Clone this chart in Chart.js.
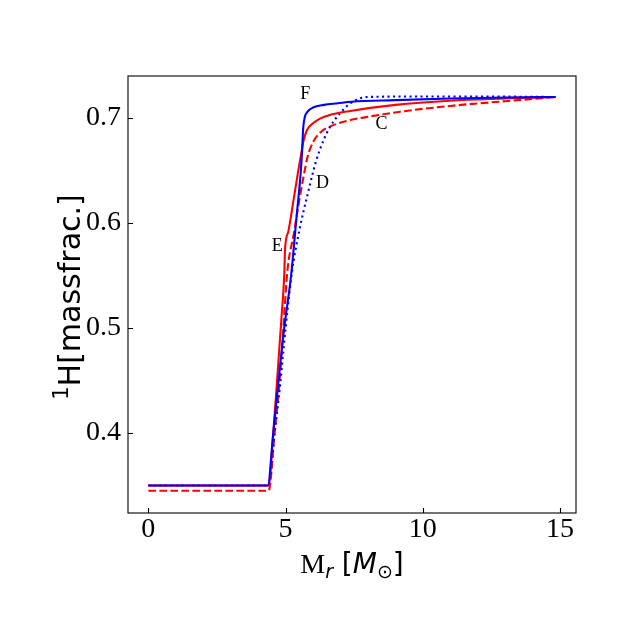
<!DOCTYPE html>
<html>
<head>
<meta charset="utf-8">
<script src="https://cdn.jsdelivr.net/npm/chart.js@4.4.1/dist/chart.umd.min.js"></script>
<style>
  body { margin: 0; background: #fff; }
  #chart { display: block; }
</style>
</head>
<body>
<canvas id="chart" width="640" height="641"></canvas>
<script>
"use strict";

// Profiles: mass coordinate (Msun) vs 1H mass fraction
const fX = [0, 4.35, 4.55, 4.73, 4.95, 5.2, 5.4, 5.55, 5.6, 5.64, 5.7, 5.8, 6.0, 6.4, 6.9, 7.4, 9, 11, 13, 14.84];
const fY = [0.35, 0.35, 0.40, 0.446, 0.50, 0.55, 0.606, 0.648, 0.668, 0.69, 0.701, 0.706, 0.710, 0.7125, 0.714, 0.7155, 0.717, 0.7185, 0.7195, 0.72];

const eX = [0, 4.38, 4.55, 4.68, 4.85, 4.95, 4.98, 5.1, 5.29, 5.45, 5.55, 5.65, 5.78, 6.0, 6.27, 6.7, 7.3, 9, 11, 13, 14.84];
const eY = [0.35, 0.35, 0.40, 0.446, 0.51, 0.55, 0.575, 0.592, 0.622, 0.648, 0.663, 0.678, 0.6886, 0.695, 0.6997, 0.7035, 0.7065, 0.7125, 0.7165, 0.7185, 0.72];

const dX = [0, 4.38, 4.6, 4.8, 5.0, 5.23, 5.5, 5.78, 6.1, 6.4, 6.63, 7.0, 7.36, 7.97, 10, 12, 14.84];
const dY = [0.35, 0.35, 0.40, 0.446, 0.50, 0.553, 0.593, 0.625, 0.658, 0.68, 0.692, 0.705, 0.714, 0.72, 0.7205, 0.7205, 0.72];

const cX = [0, 4.38, 4.6, 4.78, 4.92, 5.06, 5.3, 5.5, 5.66, 5.8, 6.0, 6.3, 6.63, 7.36, 8.2, 9.18, 11, 13, 14.84];
const cY = [0.345, 0.345, 0.40, 0.45, 0.50, 0.553, 0.59, 0.622, 0.645, 0.663, 0.677, 0.687, 0.692, 0.698, 0.702, 0.706, 0.7115, 0.716, 0.72];

// Ticks
const xTicks = [0, 5, 10, 15];
const xTickLabels = ["0", "5", "10", "15"];
const yTicks = [0.4, 0.5, 0.6, 0.7];
const yTickLabels = ["0.4", "0.5", "0.6", "0.7"];

// Curve labels
const noteText = ["F", "C", "D", "E"];
const noteX = [5.72, 8.49, 6.34, 4.70];
const noteY = [0.7229, 0.6943, 0.638, 0.578];

function pts(xs, ys) {
    return xs.map(function (x, i) { return { x: x, y: ys[i] }; });
}

const serif = '"Liberation Serif", "Times New Roman", serif';
const sans = '"DejaVu Sans", sans-serif';

// Frame, inward ticks, axis titles and curve labels
const decorations = {
    id: "decorations",
    afterDraw: function (chart) {
        const ctx = chart.ctx;
        const a = chart.chartArea;
        const xs = chart.scales.x;
        const ys = chart.scales.y;
        ctx.save();

        ctx.strokeStyle = "#000";
        ctx.lineWidth = 1.1;
        ctx.strokeRect(a.left, a.top, a.right - a.left, a.bottom - a.top);

        ctx.beginPath();
        xTicks.forEach(function (v) {
            const px = Math.round(xs.getPixelForValue(v)) + 0.5;
            ctx.moveTo(px, a.bottom);
            ctx.lineTo(px, a.bottom - 5);
        });
        yTicks.forEach(function (v) {
            const py = Math.round(ys.getPixelForValue(v)) + 0.5;
            ctx.moveTo(a.left, py);
            ctx.lineTo(a.left + 5, py);
        });
        ctx.stroke();

        ctx.fillStyle = "#000";
        ctx.textBaseline = "alphabetic";

        // x title: M_r [M_sun]
        const parts = [
            { t: "M", f: "28px " + serif, dy: 0 },
            { t: "r", f: "italic 19px " + sans, dy: 5 },
            { t: " [", f: "28px " + sans, dy: 0 },
            { t: "M", f: "italic 28px " + sans, dy: 0 },
            { t: "\u2299", f: "19px " + sans, dy: 5 },
            { t: "]", f: "28px " + sans, dy: 0 }
        ];
        let total = 0;
        parts.forEach(function (p) { ctx.font = p.f; p.w = ctx.measureText(p.t).width; total += p.w; });
        let cx = (a.left + a.right) / 2 - total / 2;
        parts.forEach(function (p) {
            ctx.font = p.f;
            ctx.textAlign = "left";
            ctx.fillText(p.t, cx, 573 + p.dy);
            cx += p.w;
        });

        // y title: 1H[massfrac.]
        ctx.save();
        ctx.translate(80, 297);
        ctx.rotate(-Math.PI / 2);
        const yparts = [
            { t: "1", f: "21px " + sans, dy: -12 },
            { t: "H[massfrac.]", f: "30px " + sans, dy: 0 }
        ];
        let ytotal = 0;
        yparts.forEach(function (p) { ctx.font = p.f; p.w = ctx.measureText(p.t).width; ytotal += p.w; });
        let yx = -ytotal / 2;
        yparts.forEach(function (p) {
            ctx.font = p.f;
            ctx.textAlign = "left";
            ctx.fillText(p.t, yx, p.dy);
            yx += p.w;
        });
        ctx.restore();

        // curve labels
        ctx.font = "18px " + serif;
        ctx.textAlign = "center";
        ctx.textBaseline = "middle";
        noteText.forEach(function (t, i) {
            ctx.fillText(t, xs.getPixelForValue(noteX[i]), ys.getPixelForValue(noteY[i]));
        });

        ctx.restore();
    }
};

const ctx = document.getElementById("chart").getContext("2d");
new Chart(ctx, {
    type: "line",
    data: {
        datasets: [
            { label: "F", data: pts(fX, fY), borderColor: "#0000ff", borderWidth: 2.1 },
            { label: "E", data: pts(eX, eY), borderColor: "#ff0000", borderWidth: 2.1 },
            { label: "D", data: pts(dX, dY), borderColor: "#0000ff", borderWidth: 2.1, borderDash: [2.1, 3.4] },
            { label: "C", data: pts(cX, cY), borderColor: "#ff0000", borderWidth: 2.1, borderDash: [7.7, 3.3] }
        ]
    },
    options: {
        responsive: false,
        animation: false,
        events: [],
        layout: { padding: { left: 0, top: 76, right: 64, bottom: 0 } },
        elements: {
            point: { radius: 0 },
            line: { cubicInterpolationMode: "monotone", fill: false, borderCapStyle: "butt" }
        },
        plugins: {
            legend: { display: false },
            tooltip: { enabled: false }
        },
        scales: {
            x: {
                type: "linear",
                min: -0.742,
                max: 15.58,
                afterBuildTicks: function (scale) {
                    scale.ticks = xTicks.map(function (v) { return { value: v }; });
                },
                afterFit: function (scale) { scale.height = 128; },
                grid: { display: false, drawTicks: false },
                border: { display: false },
                ticks: {
                    padding: 0,
                    color: "#000",
                    font: { family: serif, size: 28 },
                    maxRotation: 0,
                    callback: function (v) { return xTickLabels[xTicks.indexOf(v)]; }
                }
            },
            y: {
                type: "linear",
                min: 0.3238,
                max: 0.74,
                afterBuildTicks: function (scale) {
                    scale.ticks = yTicks.map(function (v) { return { value: v }; });
                },
                afterFit: function (scale) { scale.width = 128; },
                grid: { display: false, drawTicks: false },
                border: { display: false },
                ticks: {
                    padding: 7,
                    color: "#000",
                    font: { family: serif, size: 28 },
                    callback: function (v) {
                        const i = yTicks.findIndex(function (t) { return Math.abs(t - v) < 1e-9; });
                        return yTickLabels[i];
                    }
                }
            }
        }
    },
    plugins: [decorations]
});
</script>
</body>
</html>
